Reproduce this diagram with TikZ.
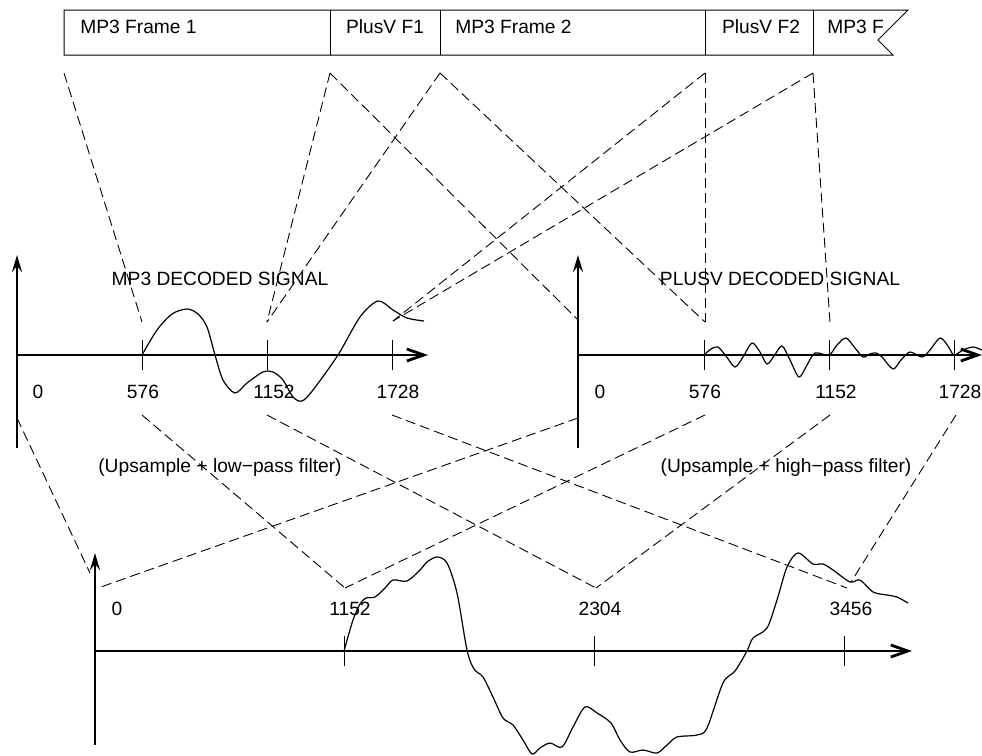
\documentclass[tikz,border=0pt]{standalone}
\usepackage{fontspec}
\setmainfont{Liberation Sans}
\usetikzlibrary{arrows.meta}

\begin{document}
\begin{tikzpicture}[x=0.5pt,y=-0.5pt,font=\fontsize{9.6pt}{11pt}\selectfont,
    axis/.style={line width=1.4pt},
    haxis/.style={axis,-{Straight Barb[length=8.5pt,width=6pt]}},
    vaxis/.style={axis,-{Stealth[length=8.5pt,width=5pt,inset=3pt]}},
    tickmark/.style={line width=0.45pt},
    link/.style={dash pattern=on 5pt off 2.5pt,line width=0.45pt},
    wave/.style={line width=0.6pt},
    lab/.style={inner sep=0pt}]
  \useasboundingbox (0,0) rectangle (982,756);
  % frame bar (torn at the right end)
  \draw[line width=0.5pt] (908,10) -- (64,10) -- (64,55) -- (893,55) -- (878,40) -- cycle;
  \foreach \x in {330,440,705,813}
      \draw[line width=0.5pt] (\x,10) -- (\x,55);
  \node[lab,anchor=west] (fr1) at (80,27) {MP3 Frame 1};
  \node[lab] (pv1) at (385,27) {PlusV F1};
  \node[lab,anchor=west] (fr2) at (455,27) {MP3 Frame 2};
  \node[lab] (pv2) at (761,27) {PlusV F2};
  \node[lab,anchor=west] (fr3) at (827,27) {MP3 F};
  % frame boundaries
  \coordinate (fa) at (64,73);
  \coordinate (fb) at (330,73);
  \coordinate (fc) at (440,73);
  \coordinate (fd) at (705,73);
  \coordinate (fe) at (813,73);

  % MP3 decoded signal
  \draw[vaxis] (17,448) -- (17,255);
  \draw[haxis] (17,355) -- (428,355);
  \foreach \x in {142,267,392}
      \draw[tickmark] (\x,340) -- (\x,370);
  \foreach \x/\lab/\nm in {38/0/a, 143/576/b, 274/1152/c, 398/1728/d}
      \node[lab] (ml\nm) at (\x,392) {\lab};
  \node[lab] (mtitle) at (220,279) {MP3 DECODED SIGNAL};
  \draw[wave] plot[smooth] coordinates {(142,355) (157,330) (172,314) (187,309) (198,314)
      (207,327) (215,355) (223,380) (235,393) (247,383) (263,372) (273,372) (283,380)
      (293,397) (302,401) (313,390) (338,355) (360,317) (378,301) (393,310) (407,318) (424,321)};

  % PlusV decoded signal
  \draw[vaxis] (578,448) -- (578,255);
  \draw[haxis] (578,355) -- (982,355);
  \foreach \x in {704,829,954}
      \draw[tickmark] (\x,340) -- (\x,370);
  \foreach \x/\lab/\nm in {600/0/a, 705/576/b, 836/1152/c, 960/1728/d}
      \node[lab] (pl\nm) at (\x,392) {\lab};
  \node[lab] (ptitle) at (780,279) {PLUSV DECODED SIGNAL};
  \draw[wave] plot[smooth] coordinates {(704,355) (711,349) (718,347) (726,356) (735,367)
      (743,357) (752,343) (760,352) (767,364) (774,356) (782,346) (790,360) (799,377)
      (807,365) (815,353) (829,355) (837,345) (846,338) (855,348) (863,357) (870,354)
      (876,353) (882,357) (893,369) (901,360) (910,352) (922,357) (930,350) (940,338)
      (948,346) (954,355) (963,350) (973,347) (982,350)};

  % links from the frames to the decoded signals
  \coordinate (ma) at (142,322);
  \coordinate (mb) at (267,322);
  \coordinate (mc) at (393,321);
  \coordinate (pa) at (578,320);
  \coordinate (pb) at (705,322);
  \coordinate (pc) at (830,322);
  \draw[link] (fa) -- (ma);
  \draw[link] (fb) -- (mb);
  \draw[link] (fc) -- (mb);
  \draw[link] (fd) -- (mc);
  \draw[link] (fe) -- (mc);
  \draw[link] (fb) -- (pa);
  \draw[link] (fc) -- (pb);
  \draw[link] (fd) -- (pb);
  \draw[link] (fe) -- (pc);

  % filters
  \node[lab] (lowf) at (220,468) {(Upsample + low−pass filter)};
  \node[lab] (highf) at (786,468) {(Upsample + high−pass filter)};

  % output signal
  \draw[vaxis] (95,745) -- (95,553);
  \draw[haxis] (95,651) -- (912,651);
  \foreach \x in {344,594,844}
      \draw[tickmark] (\x,636) -- (\x,666);
  \foreach \x/\lab/\nm in {117/0/a, 350/1152/b, 600/2304/c, 851/3456/d}
      \node[lab] (ol\nm) at (\x,609) {\lab};
  \draw[wave] plot[smooth] coordinates {(344,651) (353,620) (360,604) (366,598) (375,597)
      (385,588) (393,580) (407,581) (420,570) (427,562) (437,557) (447,563) (457,593)
      (467,650) (474,669) (483,677) (493,697) (503,718) (513,725) (523,740) (532,754)
      (540,748) (550,743) (562,747) (573,727) (585,707) (597,713) (611,723) (620,740)
      (630,752) (643,750) (657,753) (667,745) (677,737) (697,735) (707,728) (723,683)
      (735,671) (747,651) (753,638) (767,628) (777,600) (787,567) (798,553) (813,564)
      (823,564) (833,570) (850,582) (860,580) (873,592) (887,595) (897,597) (908,603)};

  % links from the decoded signals to the output
  \coordinate (mla) at (17,418);
  \coordinate (mlb) at (142,415);
  \coordinate (mlc) at (267,415);
  \coordinate (mld) at (392,415);
  \coordinate (pla) at (578,418);
  \coordinate (plb) at (705,415);
  \coordinate (plc) at (830,415);
  \coordinate (pld) at (956,415);
  \coordinate (oa) at (90,573);
  \coordinate (oa') at (98,588);
  \coordinate (ob) at (345,588);
  \coordinate (oc) at (596,588);
  \coordinate (od) at (847,588);
  \coordinate (od') at (851,582);
  \draw[link] (mla) -- (oa);
  \draw[link] (pla) -- (oa');
  \draw[link] (mlb) -- (ob);
  \draw[link] (plb) -- (ob);
  \draw[link] (mlc) -- (oc);
  \draw[link] (plc) -- (oc);
  \draw[link] (mld) -- (od);
  \draw[link] (pld) -- (od');
\end{tikzpicture}
\end{document}
